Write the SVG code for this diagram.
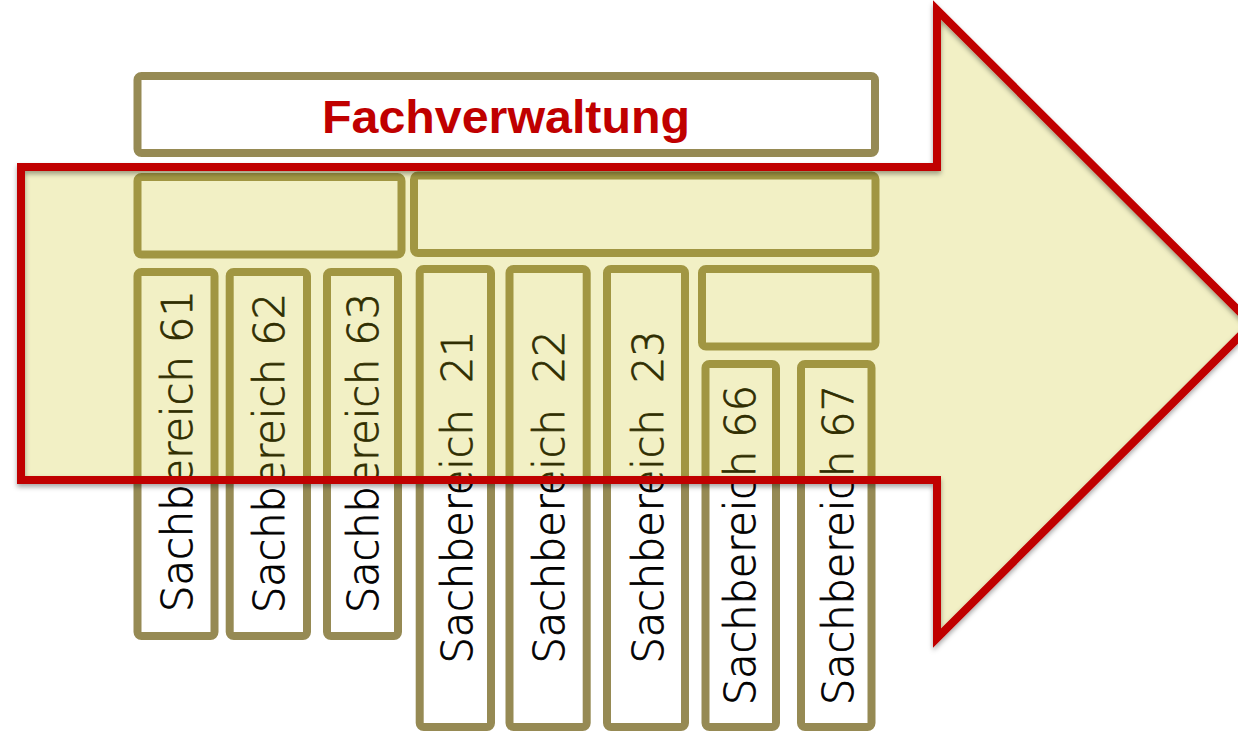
<svg xmlns="http://www.w3.org/2000/svg" width="1238" height="734" viewBox="0 0 1238 734">
<defs>
<style>
.box{fill:#ffffff;stroke:#968A54;stroke-width:8;}
.lbl{font-family:"DejaVu Sans","Open Sans",sans-serif;font-weight:200;font-size:43px;fill:#000;stroke:#000;stroke-width:0.8;text-anchor:middle;}
.title{font-family:"Liberation Sans","Open Sans",sans-serif;font-weight:bold;font-size:47px;fill:#C00000;text-anchor:middle;}
</style>
<filter id="sh" x="-5%" y="-5%" width="110%" height="115%">
<feDropShadow dx="0" dy="3" stdDeviation="2.5" flood-color="#000" flood-opacity="0.35"/>
</filter>
</defs>
<rect width="1238" height="734" fill="#ffffff"/>
<g id="fachverwaltung">
<rect class="box" x="137.5" y="76" width="737.5" height="77" rx="4"/>
<text class="title" x="506" y="133" textLength="368" lengthAdjust="spacingAndGlyphs">Fachverwaltung</text>
</g>
<g id="gruppe-links"><rect class="box" x="137.5" y="177" width="264" height="77.5" rx="4"/></g>
<g id="gruppe-rechts"><rect class="box" x="414" y="175.5" width="461.5" height="77.5" rx="4"/></g>
<g id="gruppe-66-67"><rect class="box" x="702" y="269" width="173.5" height="77.5" rx="4"/></g>
<g id="sb61"><rect class="box" x="137.5" y="272" width="77" height="364" rx="4"/>
<text class="lbl" transform="translate(191.5,451) rotate(-90)" textLength="322" lengthAdjust="spacingAndGlyphs">Sachbereich 61</text></g>
<g id="sb62"><rect class="box" x="229.7" y="272" width="77.3" height="364" rx="4"/>
<text class="lbl" transform="translate(284,453) rotate(-90)" textLength="320" lengthAdjust="spacingAndGlyphs">Sachbereich 62</text></g>
<g id="sb63"><rect class="box" x="327" y="272" width="71" height="364" rx="4"/>
<text class="lbl" transform="translate(377.5,453) rotate(-90)" textLength="320" lengthAdjust="spacingAndGlyphs">Sachbereich 63</text></g>
<g id="sb21"><rect class="box" x="419.7" y="269" width="71.3" height="458" rx="4"/>
<text class="lbl" transform="translate(471.5,497) rotate(-90)" textLength="333" lengthAdjust="spacingAndGlyphs" xml:space="preserve">Sachbereich  21</text></g>
<g id="sb22"><rect class="box" x="509.5" y="269" width="77.2" height="458" rx="4"/>
<text class="lbl" transform="translate(564,497) rotate(-90)" textLength="333" lengthAdjust="spacingAndGlyphs" xml:space="preserve">Sachbereich  22</text></g>
<g id="sb23"><rect class="box" x="607" y="269" width="78" height="458" rx="4"/>
<text class="lbl" transform="translate(663,497) rotate(-90)" textLength="333" lengthAdjust="spacingAndGlyphs" xml:space="preserve">Sachbereich  23</text></g>
<g id="sb66"><rect class="box" x="705.5" y="364" width="70.5" height="363" rx="4"/>
<text class="lbl" transform="translate(755,545) rotate(-90)" textLength="320" lengthAdjust="spacingAndGlyphs">Sachbereich 66</text></g>
<g id="sb67"><rect class="box" x="801" y="364" width="70.5" height="363" rx="4"/>
<text class="lbl" transform="translate(852.5,545) rotate(-90)" textLength="320" lengthAdjust="spacingAndGlyphs">Sachbereich 67</text></g>
<g id="pfeil">
<path d="M21,167 L937,167 L937,10 L1252,324 L937,638 L937,480 L21,480 Z" fill="rgb(200,191,7)" fill-opacity="0.234" stroke="none"/>
<path d="M21,167 L937,167 L937,10 L1252,324 L937,638 L937,480 L21,480 Z" fill="none" stroke="#C00000" stroke-width="8" stroke-linejoin="miter" filter="url(#sh)"/>
</g>
</svg>
